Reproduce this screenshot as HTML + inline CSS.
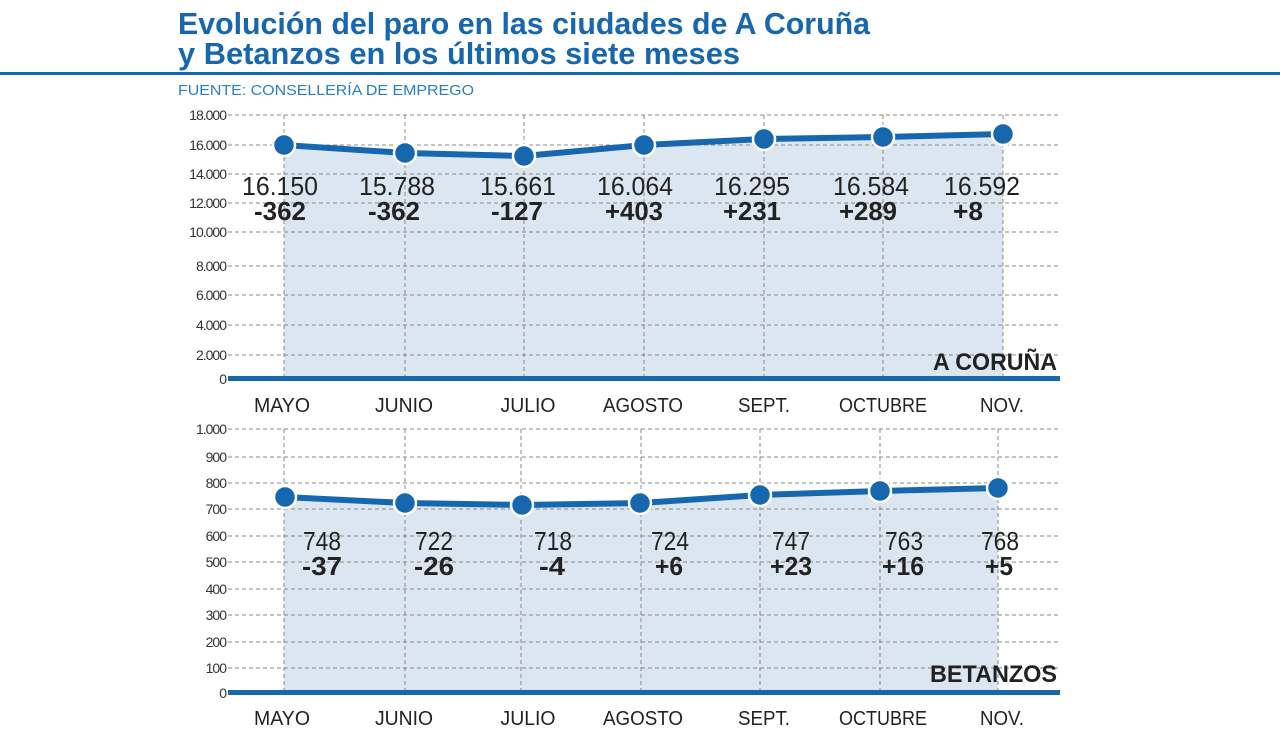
<!DOCTYPE html><html><head><meta charset="utf-8"><style>html,body{margin:0;padding:0;background:#fff;width:1280px;height:732px;overflow:hidden}</style></head><body>
<svg width="1280" height="732" xmlns="http://www.w3.org/2000/svg" font-family="Liberation Sans, sans-serif">
<text x="178" y="34" font-size="31" font-weight="bold" fill="#1767ae" textLength="692" lengthAdjust="spacingAndGlyphs">Evolución del paro en las ciudades de A Coruña</text>
<text x="178" y="64" font-size="31" font-weight="bold" fill="#1767ae" textLength="562" lengthAdjust="spacingAndGlyphs">y Betanzos en los últimos siete meses</text>
<rect x="0" y="72" width="1280" height="3" fill="#1767ae"/>
<text x="178" y="95" font-size="15" fill="#2a7fc0" textLength="296" lengthAdjust="spacingAndGlyphs">FUENTE: CONSELLERÍA DE EMPREGO</text>
<g id="top">
<path d="M284,145 L405,153 L524,156 L644,145 L764,139 L883,137 L1003,134 L1003,378 L284,378Z" fill="#dce6f1"/>
<g stroke="#888" stroke-width="1" stroke-dasharray="4,3">
<line x1="228" y1="115" x2="1060" y2="115"/><line x1="228" y1="145" x2="1060" y2="145"/><line x1="228" y1="174" x2="1060" y2="174"/><line x1="228" y1="203" x2="1060" y2="203"/><line x1="228" y1="232" x2="1060" y2="232"/><line x1="228" y1="266" x2="1060" y2="266"/><line x1="228" y1="295" x2="1060" y2="295"/><line x1="228" y1="325" x2="1060" y2="325"/><line x1="228" y1="355" x2="1060" y2="355"/>
<line x1="284" y1="115" x2="284" y2="378"/><line x1="405" y1="115" x2="405" y2="378"/><line x1="524" y1="115" x2="524" y2="378"/><line x1="644" y1="115" x2="644" y2="378"/><line x1="764" y1="115" x2="764" y2="378"/><line x1="883" y1="115" x2="883" y2="378"/><line x1="1003" y1="115" x2="1003" y2="378"/>
</g>
<g font-size="14" fill="#333" text-anchor="end" letter-spacing="-1">
<text x="226" y="120">18.000</text><text x="226" y="150">16.000</text><text x="226" y="179">14.000</text><text x="226" y="208">12.000</text><text x="226" y="237">10.000</text><text x="226" y="271">8.000</text><text x="226" y="300">6.000</text><text x="226" y="330">4.000</text><text x="226" y="360">2.000</text><text x="226" y="384">0</text>
</g>
<rect x="228" y="376" width="832" height="5" fill="#1767ae"/>
<polyline points="284,145 405,153 524,156 644,145 764,139 883,137 1003,134" fill="none" stroke="#1767ae" stroke-width="6"/>
<g fill="#1767ae" stroke="#fff" stroke-width="2.5"><circle cx="284" cy="145" r="11"/><circle cx="405" cy="153" r="11"/><circle cx="524" cy="156" r="11"/><circle cx="644" cy="145" r="11"/><circle cx="764" cy="139" r="11"/><circle cx="883" cy="137" r="11"/><circle cx="1003" cy="134" r="11"/></g>
<g font-size="26" fill="#222" text-anchor="middle">
<text x="280" y="195" textLength="76" lengthAdjust="spacingAndGlyphs">16.150</text><text x="397" y="195" textLength="76" lengthAdjust="spacingAndGlyphs">15.788</text><text x="518" y="195" textLength="76" lengthAdjust="spacingAndGlyphs">15.661</text><text x="635" y="195" textLength="76" lengthAdjust="spacingAndGlyphs">16.064</text><text x="752" y="195" textLength="76" lengthAdjust="spacingAndGlyphs">16.295</text><text x="871" y="195" textLength="76" lengthAdjust="spacingAndGlyphs">16.584</text><text x="982" y="195" textLength="76" lengthAdjust="spacingAndGlyphs">16.592</text>
</g>
<g font-size="26" font-weight="bold" fill="#222" text-anchor="middle">
<text x="280" y="220" textLength="52" lengthAdjust="spacingAndGlyphs">-362</text><text x="394" y="220" textLength="52" lengthAdjust="spacingAndGlyphs">-362</text><text x="517" y="220" textLength="52" lengthAdjust="spacingAndGlyphs">-127</text><text x="634" y="220" textLength="58" lengthAdjust="spacingAndGlyphs">+403</text><text x="752" y="220" textLength="58" lengthAdjust="spacingAndGlyphs">+231</text><text x="868" y="220" textLength="58" lengthAdjust="spacingAndGlyphs">+289</text><text x="968" y="220" textLength="30" lengthAdjust="spacingAndGlyphs">+8</text>
</g>
<text x="1057" y="370" font-size="24" font-weight="bold" fill="#222" text-anchor="end" textLength="124" lengthAdjust="spacingAndGlyphs">A CORUÑA</text>
</g>
<g font-size="20" fill="#222" text-anchor="middle">
<text x="282" y="412" textLength="56" lengthAdjust="spacingAndGlyphs">MAYO</text><text x="404" y="412" textLength="58" lengthAdjust="spacingAndGlyphs">JUNIO</text><text x="528" y="412" textLength="55" lengthAdjust="spacingAndGlyphs">JULIO</text><text x="643" y="412" textLength="80" lengthAdjust="spacingAndGlyphs">AGOSTO</text><text x="764" y="412" textLength="52" lengthAdjust="spacingAndGlyphs">SEPT.</text><text x="883" y="412" textLength="88" lengthAdjust="spacingAndGlyphs">OCTUBRE</text><text x="1002" y="412" textLength="44" lengthAdjust="spacingAndGlyphs">NOV.</text>
<text x="282" y="725" textLength="56" lengthAdjust="spacingAndGlyphs">MAYO</text><text x="404" y="725" textLength="58" lengthAdjust="spacingAndGlyphs">JUNIO</text><text x="528" y="725" textLength="55" lengthAdjust="spacingAndGlyphs">JULIO</text><text x="643" y="725" textLength="80" lengthAdjust="spacingAndGlyphs">AGOSTO</text><text x="764" y="725" textLength="52" lengthAdjust="spacingAndGlyphs">SEPT.</text><text x="883" y="725" textLength="88" lengthAdjust="spacingAndGlyphs">OCTUBRE</text><text x="1002" y="725" textLength="44" lengthAdjust="spacingAndGlyphs">NOV.</text>
</g>
<g id="bot">
<path d="M284,497 L405,503 L521,505 L641,503 L760,495 L880,491 L998,488 L998,692 L284,692Z" fill="#dce6f1"/>
<g stroke="#888" stroke-width="1" stroke-dasharray="4,3">
<line x1="228" y1="429" x2="1060" y2="429"/><line x1="228" y1="457" x2="1060" y2="457"/><line x1="228" y1="483" x2="1060" y2="483"/><line x1="228" y1="509" x2="1060" y2="509"/><line x1="228" y1="536" x2="1060" y2="536"/><line x1="228" y1="562" x2="1060" y2="562"/><line x1="228" y1="589" x2="1060" y2="589"/><line x1="228" y1="615" x2="1060" y2="615"/><line x1="228" y1="642" x2="1060" y2="642"/><line x1="228" y1="668" x2="1060" y2="668"/>
<line x1="284" y1="429" x2="284" y2="692"/><line x1="405" y1="429" x2="405" y2="692"/><line x1="521" y1="429" x2="521" y2="692"/><line x1="641" y1="429" x2="641" y2="692"/><line x1="760" y1="429" x2="760" y2="692"/><line x1="880" y1="429" x2="880" y2="692"/><line x1="998" y1="429" x2="998" y2="692"/>
</g>
<g font-size="14" fill="#333" text-anchor="end" letter-spacing="-1">
<text x="226" y="434">1.000</text><text x="226" y="462">900</text><text x="226" y="488">800</text><text x="226" y="514">700</text><text x="226" y="541">600</text><text x="226" y="567">500</text><text x="226" y="594">400</text><text x="226" y="620">300</text><text x="226" y="647">200</text><text x="226" y="673">100</text><text x="226" y="698">0</text>
</g>
<rect x="228" y="690" width="832" height="5" fill="#1767ae"/>
<polyline points="284,497 405,503 521,505 641,503 760,495 880,491 998,488" fill="none" stroke="#1767ae" stroke-width="6"/>
<g fill="#1767ae" stroke="#fff" stroke-width="2.5"><circle cx="285" cy="497" r="11"/><circle cx="405" cy="503" r="11"/><circle cx="522" cy="505" r="11"/><circle cx="640" cy="503" r="11"/><circle cx="760" cy="495" r="11"/><circle cx="880" cy="491" r="11"/><circle cx="998" cy="488" r="11"/></g>
<g font-size="26" fill="#222" text-anchor="middle">
<text x="322" y="550" textLength="38" lengthAdjust="spacingAndGlyphs">748</text><text x="434" y="550" textLength="38" lengthAdjust="spacingAndGlyphs">722</text><text x="553" y="550" textLength="38" lengthAdjust="spacingAndGlyphs">718</text><text x="670" y="550" textLength="38" lengthAdjust="spacingAndGlyphs">724</text><text x="791" y="550" textLength="38" lengthAdjust="spacingAndGlyphs">747</text><text x="904" y="550" textLength="38" lengthAdjust="spacingAndGlyphs">763</text><text x="1000" y="550" textLength="38" lengthAdjust="spacingAndGlyphs">768</text>
</g>
<g font-size="26" font-weight="bold" fill="#222" text-anchor="middle">
<text x="322" y="575" textLength="40" lengthAdjust="spacingAndGlyphs">-37</text><text x="434" y="575" textLength="40" lengthAdjust="spacingAndGlyphs">-26</text><text x="552" y="575" textLength="26" lengthAdjust="spacingAndGlyphs">-4</text><text x="669" y="575" textLength="28" lengthAdjust="spacingAndGlyphs">+6</text><text x="791" y="575" textLength="42" lengthAdjust="spacingAndGlyphs">+23</text><text x="903" y="575" textLength="42" lengthAdjust="spacingAndGlyphs">+16</text><text x="999" y="575" textLength="28" lengthAdjust="spacingAndGlyphs">+5</text>
</g>
<text x="1057" y="682" font-size="24" font-weight="bold" fill="#222" text-anchor="end" textLength="127" lengthAdjust="spacingAndGlyphs">BETANZOS</text>
</g>
</svg>
</body></html>
